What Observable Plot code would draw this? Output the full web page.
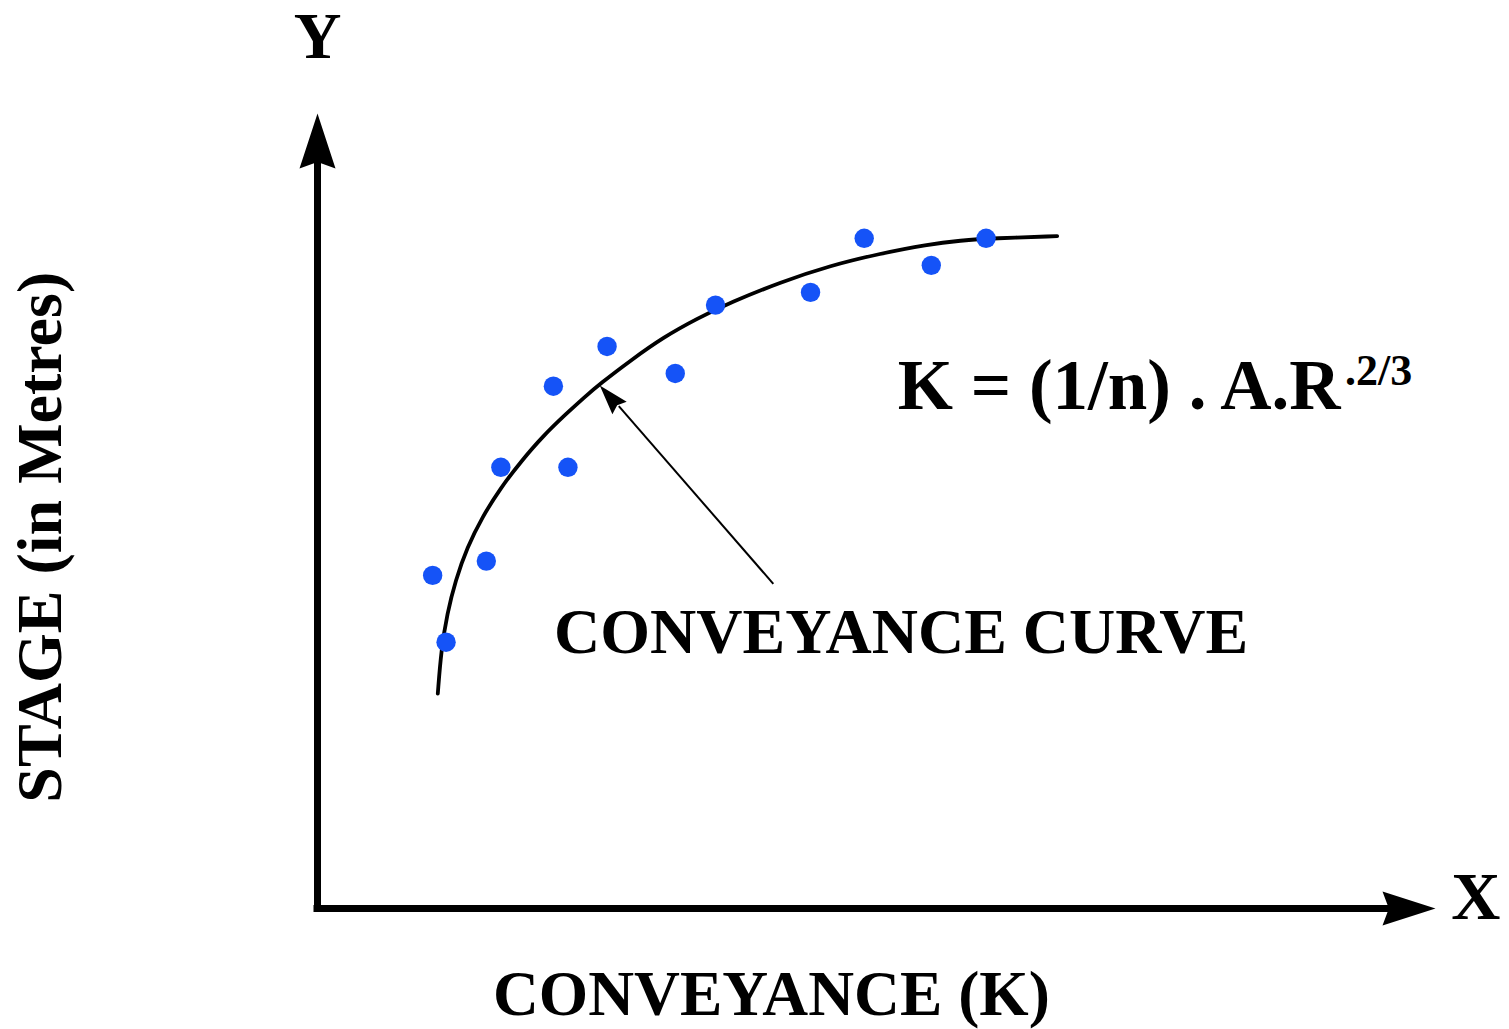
<!DOCTYPE html>
<html>
<head>
<meta charset="utf-8">
<script src="https://cdn.jsdelivr.net/npm/d3@7"></script>
<script src="https://cdn.jsdelivr.net/npm/@observablehq/plot@0.6"></script>
<style>
  html, body { margin: 0; padding: 0; background: #fff; }
  #chart svg { display: block; }
</style>
</head>
<body>
<div id="chart"></div>
<script>
// ---- Data (conveyance K vs stage, arbitrary units) ----
const obsK     = [10.3, 11.5, 15.1, 16.4, 22.4, 21.1, 25.9, 32.0, 35.6, 44.1, 48.9, 54.9, 59.8];
const obsStage = [41.9, 33.5, 43.7, 55.5, 55.5, 65.7, 70.7, 67.3, 75.9, 77.5, 84.3, 80.9, 84.3];

const curveK     = [10.76, 11.06, 11.60, 12.34, 13.39, 14.73, 16.37, 18.16, 20.21, 22.33, 23.79, 25.31, 28.00, 30.95, 33.96, 37.00, 41.41, 45.89, 50.36, 54.53, 57.51, 60.47, 66.16];
const curveStage = [27.04, 32.45, 37.11, 41.26, 45.45, 49.22, 52.89, 56.16, 59.50, 62.33, 64.21, 66.04, 68.93, 71.86, 74.21, 76.26, 78.78, 80.88, 82.39, 83.52, 84.03, 84.31, 84.57];

const xAxisTitle = "CONVEYANCE (K)";
const yAxisTitle = "STAGE (in Metres)";
const xLetter = "X";
const yLetter = "Y";
const curveLabel = "CONVEYANCE CURVE";
const formulaMain = "K = (1/n) . A.R";
const formulaSup = ".2/3";

// ---- Build tables ----
const observations = obsK.map((k, i) => ({k, stage: obsStage[i]}));
const curve = curveK.map((k, i) => ({k, stage: curveStage[i]}));

const xDomain = [0, 100], xRange = [317, 1435];
const yDomain = [0, 100], yRange = [908, 113];
const pxPerX = (xRange[1] - xRange[0]) / (xDomain[1] - xDomain[0]);
const pxPerY = (yRange[1] - yRange[0]) / (yDomain[1] - yDomain[0]);

// filled arrowhead symbol, tip at origin, pointing in screen angle theta
function arrowHead(theta, len, wid) {
  return {
    draw(ctx) {
      const dx = Math.cos(theta), dy = Math.sin(theta);
      const nx = -dy, ny = dx;
      ctx.moveTo(0, 0);
      ctx.lineTo(-len * dx + nx * wid / 2, -len * dy + ny * wid / 2);
      ctx.lineTo(-0.88 * len * dx, -0.88 * len * dy);
      ctx.lineTo(-len * dx - nx * wid / 2, -len * dy - ny * wid / 2);
      ctx.closePath();
    }
  };
}

// annotation arrow (tail near label, tip on curve)
const annTail = {k: 40.77, stage: 40.84};
const annTip = {k: 25.25, stage: 65.8};
const annTheta = Math.atan2((annTip.stage - annTail.stage) * pxPerY, (annTip.k - annTail.k) * pxPerX);

const font = "'Liberation Serif', 'Times New Roman', Times, serif";

const chart = Plot.plot({
  width: 1509,
  height: 1029,
  margin: 0,
  style: {background: "#fff", fontFamily: font},
  x: {domain: xDomain, range: xRange, axis: null},
  y: {domain: yDomain, range: yRange, axis: null},
  marks: [
    // axes
    Plot.ruleY([0], {x1: 0, x2: 96, stroke: "#000", strokeWidth: 7, strokeLinecap: "square"}),
    Plot.ruleX([0], {y1: 0, y2: 94, stroke: "#000", strokeWidth: 7, strokeLinecap: "square"}),
    Plot.dot([{k: 100, stage: 0}], {x: "k", y: "stage", symbol: arrowHead(0, 53, 34), fill: "#000", stroke: "none"}),
    Plot.dot([{k: 0, stage: 100}], {x: "k", y: "stage", symbol: arrowHead(-Math.PI / 2, 55, 36), fill: "#000", stroke: "none"}),
    // fitted curve
    Plot.line(curve, {x: "k", y: "stage", curve: "basis", stroke: "#000", strokeWidth: 3.8, strokeLinecap: "round"}),
    // observations
    Plot.dot(observations, {x: "k", y: "stage", r: 9.7, fill: "#1553f7", stroke: "none"}),
    // annotation arrow
    Plot.link([{x1: annTail.k, y1: annTail.stage, x2: annTip.k + 1.7, y2: annTip.stage - 2.6}],
      {x1: "x1", y1: "y1", x2: "x2", y2: "y2", stroke: "#000", strokeWidth: 2}),
    Plot.dot([annTip], {x: "k", y: "stage", symbol: arrowHead(annTheta, 30, 19), fill: "#000", stroke: "none"}),
    // texts
    Plot.text([yLetter], {x: 0, y: 109.6, text: d => d, fontSize: 66, fontWeight: "bold", fill: "#000", lineAnchor: "middle"}),
    Plot.text([xLetter], {x: 103.6, y: 1.4, text: d => d, fontSize: 68, fontWeight: "bold", fill: "#000", lineAnchor: "middle"}),
    Plot.text([xAxisTitle], {x: 40.6, y: -10.9, text: d => d, fontSize: 63.5, fontWeight: "bold", fill: "#000", lineAnchor: "middle"}),
    Plot.text([yAxisTitle], {x: -24.8, y: 46.7, text: d => d, rotate: -90, fontSize: 64, fontWeight: "bold", fill: "#000", lineAnchor: "middle"}),
    Plot.text([curveLabel], {x: 52.2, y: 34.7, text: d => d, fontSize: 64, fontWeight: "bold", fill: "#000", lineAnchor: "middle"}),
    Plot.text([formulaMain], {x: 51.9, y: 65.7, text: d => d, fontSize: 71, fontWeight: "bold", fill: "#000", textAnchor: "start", lineAnchor: "middle"}),
    Plot.text([formulaSup], {x: 91.9, y: 67.6, text: d => d, fontSize: 44, fontWeight: "bold", fill: "#000", textAnchor: "start", lineAnchor: "middle"})
  ]
});

document.getElementById("chart").appendChild(chart);
</script>
</body>
</html>
